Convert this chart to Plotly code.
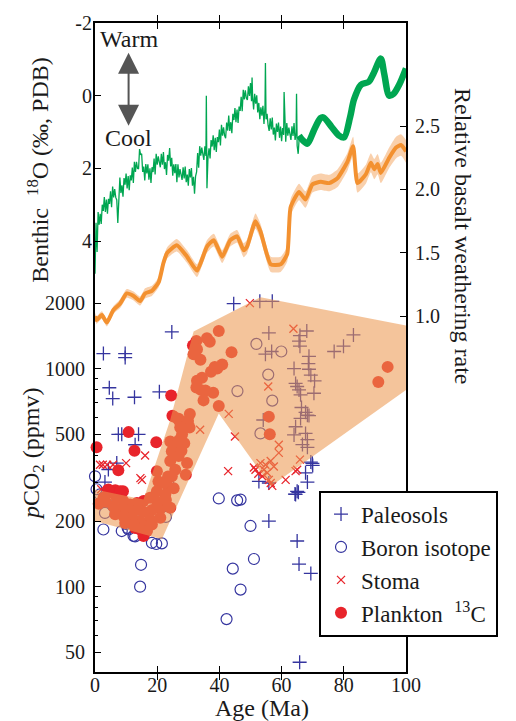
import plotly.graph_objects as go

# ---------------- data ----------------
# Benthic d18O (noisy record, 0-66 Ma)
green_age = [0, 0.33, 0.67, 1, 1.33, 1.67, 2, 2.33, 2.67, 3, 3.33, 3.67, 4, 4.33, 4.67, 5, 5.33, 5.67,
             6, 6.33, 6.67, 7, 7.33, 7.67, 8, 8.33, 8.67, 9, 9.33, 9.67, 10, 10.33, 10.67, 11, 11.33, 11.67,
             12, 12.33, 12.67, 13, 13.33, 13.67, 14, 14.33, 14.67, 15, 15.33, 15.67, 16, 16.33, 16.67,
             17, 17.33, 17.67, 18, 18.33, 18.67, 19, 19.33, 19.67, 20, 20.33, 20.67, 21, 21.33, 21.67,
             22, 22.33, 22.67, 23, 23.33, 23.67, 24, 24.33, 24.67, 25, 25.33, 25.67, 26, 26.33, 26.67,
             27, 27.33, 27.67, 28, 28.33, 28.67, 29, 29.33, 29.67, 30, 30.33, 30.67, 31, 31.33, 31.67,
             32, 32.33, 32.67, 33, 33.33, 33.67, 34, 34.33, 34.67, 35, 35.33, 35.67, 35.8, 36, 36.33, 36.67,
             37, 37.33, 37.67, 38, 38.33, 38.67, 39, 39.33, 39.67, 40, 40.33, 40.67, 41, 41.33, 41.67,
             42, 42.33, 42.67, 43, 43.33, 43.67, 44, 44.33, 44.67, 45, 45.33, 45.67, 46, 46.33, 46.67,
             47, 47.33, 47.67, 48, 48.33, 48.67, 49, 49.33, 49.67, 50, 50.33, 50.5, 50.67, 51, 51.33, 51.67,
             52, 52.33, 52.67, 53, 53.33, 53.67, 54, 54.33, 54.67, 54.8, 55, 55.33, 55.67, 56, 56.33, 56.67,
             57, 57.33, 57.67, 58, 58.33, 58.67, 59, 59.33, 59.67, 60, 60.33, 60.67, 60.8, 61, 61.33, 61.67,
             62, 62.33, 62.67, 63, 63.33, 63.67, 64, 64.33, 64.67, 64.8, 65, 65.33, 65.67, 66]
green_d18o = [4.9, 3.5, 4.3, 3.2, 3.55, 3.25, 3.53, 3.0, 3.17, 2.79, 3.2, 2.86, 3.25, 2.84, 2.98, 2.63, 3.07, 2.5,
              2.8, 2.57, 2.8, 2.87, 3.5, 2.66, 2.25, 2.68, 2.47, 2.78, 2.27, 2.45, 2.14, 2.55, 2.21, 2.6, 2.19, 2.33,
              1.98, 2.4, 1.82, 2.1, 1.82, 2.0, 2.02, 1.47, 1.63, 1.6, 2.1, 1.95, 2.33, 1.88, 2.14,
              1.89, 2.31, 2.0, 2.4, 1.97, 2.1, 1.73, 2.17, 1.6, 1.9, 1.67, 1.9, 1.97, 1.6, 1.9,
              1.55, 2.02, 1.83, 2.18, 1.63, 1.79, 1.44, 1.95, 1.71, 2.2, 1.89, 2.13, 1.88, 2.38, 1.89,
              2.25, 2.02, 2.25, 2.32, 1.97, 2.28, 1.95, 2.38, 2.17, 2.48, 2.02, 2.25, 1.99, 2.48, 2.23,
              2.7, 2.22, 2.1, 1.58, 1.98, 1.39, 1.65, 1.43, 1.69, 1.77, 1.39, 1.66, 0.0, 2.55, 1.7, 1.45,
              1.73, 1.22, 1.4, 1.09, 1.5, 1.16, 1.55, 1.14, 1.28, 0.93, 1.37, 0.8, 1.1, 0.87, 1.1,
              1.17, 0.74, 0.96, 0.55, 0.97, 0.73, 1.03, 0.5, 0.67, 0.34, 0.73, 0.38, 0.75, 0.3, 0.42,
              0.03, 0.43, -0.16, 0.1, -0.15, 0.07, 0.12, -0.26, 0.01, -0.35, 0.15, -0.5, 0.0, 0.38, -0.05, 0.22,
              -0.01, 0.46, 0.2, 0.65, 0.32, 0.55, 0.28, 0.78, 0.29, -0.9, 0.65, 0.5, 0.82, 0.97, 0.62, 0.93,
              0.6, 1.07, 0.88, 1.23, 0.77, 1.0, 0.74, 1.16, 0.85, 1.25, 0.89, 1.08, -0.1, 0.78, 1.27, 0.75,
              1.1, 0.88, 1.14, 1.22, 0.84, 1.11, 0.75, 1.22, 1.03, -0.05, 1.38, 1.6, 1.15, 1.12]

# Benthic d18O (smoothed, 66-100 Ma)
smooth_age = [65.6, 66.5, 68.3, 70.4, 72.5, 73.5, 76.0, 78.5, 80.1, 82.0, 83.3, 85.5, 88.0, 89.5, 91.9, 93.0, 94.6, 96.0, 97.8, 100.0]
smooth_d18o = [1.1, 1.2, 1.32, 0.95, 0.62, 0.6, 0.85, 1.1, 1.15, 0.6, 0.1, -0.3, -0.38, -0.6, -1.02, -0.6, 0.0, -0.05, -0.3, -0.75]

# Relative basalt weathering rate
rate_age = [0, 0.5, 2.2, 3.8, 5.9, 8.1, 10.2, 12.4, 14.5, 16.1, 18.3, 20.5, 22.0, 23.2, 26.3, 29.6, 32.8, 36.0,
            38.2, 40.9, 43.5, 45.7, 47.8, 48.9, 51.6, 53.2, 56.5, 59.7, 61.8, 62.9, 65.6, 67.7, 69.9, 72.6, 75.3,
            78.0, 81.2, 83.0, 84.4, 87.1, 88.7, 89.8, 90.9, 91.9, 94.6, 96.8, 98.4, 100.0]
rate_val = [1.0, 0.97, 1.01, 0.95, 1.05, 1.1, 1.18, 1.16, 1.12, 1.18, 1.2, 1.27, 1.42, 1.5, 1.56, 1.47, 1.36, 1.55,
            1.6, 1.47, 1.6, 1.63, 1.52, 1.55, 1.75, 1.67, 1.41, 1.41, 1.49, 1.86, 1.98, 1.92, 2.04, 2.06, 2.05,
            2.09, 2.22, 2.34, 2.05, 2.12, 2.21, 2.16, 2.2, 2.13, 2.25, 2.33, 2.35, 2.3]
rate_err = [0.03, 0.03, 0.03, 0.03, 0.03, 0.035, 0.035, 0.035, 0.035, 0.04, 0.04, 0.04, 0.045, 0.045, 0.05, 0.05, 0.05, 0.05,
            0.05, 0.05, 0.05, 0.05, 0.055, 0.055, 0.06, 0.06, 0.06, 0.06, 0.06, 0.065, 0.065, 0.065, 0.065, 0.065, 0.065,
            0.07, 0.07, 0.075, 0.075, 0.075, 0.075, 0.08, 0.08, 0.08, 0.08, 0.085, 0.085, 0.09]

# pCO2 envelope (age, ppmv)
env_age = [0, 0, 15.6, 24.2, 31.7, 53.2, 100, 100, 56.5, 39.8, 21.5, 0]
env_co2 = [200, 279, 251, 584, 1484, 2128, 1580, 798, 289, 624, 165, 200]

# Proxies
paleo_age = [44.6, 24.7, 2.7, 9.7, 9.7, 4.6, 5.7, 12.7, 20.7, 7.5, 8.6, 14.0, 12.9, 7.0, 4.3, 3.2,
             53.0, 57.0, 68.1, 55.9, 65.9, 65.6, 65.9, 83.1, 79.9, 76.9, 54.8, 56.8, 68.8, 68.6, 64.0, 68.8,
             69.4, 70.6, 64.5, 65.0, 65.6, 66.1, 70.4, 66.4, 67.7, 68.8, 54.1, 64.5, 64.0, 67.7, 68.3, 66.7,
             68.3, 68.3, 66.1, 69.4, 69.9, 52.7, 55.9, 67.7, 68.3, 65.0, 64.5, 55.9, 65.0, 65.6, 69.4, 65.8,
             64.3, 65.4, 70.0]
paleo_co2 = [1990, 1475, 1174, 1174, 1125, 818, 730, 740, 784, 500, 500, 500, 448, 369, 345, 302,
             2040, 2040, 1490, 1460, 1420, 1340, 1270, 1430, 1270, 1200, 1166, 1200, 1140, 1056, 1002, 995,
             934, 880, 856, 829, 800, 759, 772, 664, 631, 610, 582, 542, 497, 505, 473, 449,
             436, 612, 592, 373, 368, 304, 299, 333, 302, 274, 265, 200, 162, 127, 115, 45,
             266, 271, 360]

boron_age = [51.9, 59.9, 55.7, 45.8, 57.0, 53.2, 46.8, 50.0, 51.1, 39.8, 45.7, 44.3, 46.8, 42.3,
             2.7, 8.6, 10.8, 12.9, 18.3, 19.7, 21.5, 14.8, 14.5, 0.5, 1.6, 3.8, 5.9, 3.2, 10.0, 11.8,
             15.8, 16.5, 22.8, 23.6, 0.0, 12.4, 10.5]
boron_co2 = [1300, 1200, 940, 790, 714, 505, 251, 190, 134, 254, 249, 121, 97, 71,
             183, 180, 183, 170, 159, 157, 158, 126, 100, 280, 265, 251, 234, 218, 194, 207,
             216, 180, 209, 296, 321, 171, 186]

stoma_age = [49.8, 63.8, 55.7, 59.1, 59.1, 65.9, 53.2, 54.8, 56.5, 57.5, 54.3, 55.4, 51.6, 51.1, 53.8,
             55.9, 56.5, 61.3, 64.5, 65.0, 1.6, 2.5, 3.9, 5.8, 10.0, 16.1, 14.6, 15.1, 33.8, 43.0,
             45.0, 42.8, 2.0, 5.0, 52.5, 57.0]
stoma_co2 = [2000, 1526, 829, 448, 411, 383, 369, 363, 377, 356, 344, 333, 344, 352, 321,
             309, 299, 309, 339, 344, 363, 363, 363, 363, 369, 400, 315, 309, 525, 621,
             489, 339, 280, 275, 330, 290]

plank_age = [0.5, 10.8, 12.7, 19.7, 7.5, 24.5, 24.9, 6.5, 9.0,
             39.8, 32.6, 36.9, 32.8, 31.7, 33.9, 43.9, 40.9, 39.3, 37.3, 34.4, 32.8, 32.6, 35.5, 38.0, 34.9,
             39.8, 25.3, 26.9, 29.9, 94.1, 91.1, 55.9, 56.2,
             26.9, 29.8, 30.4, 27.4, 24.2, 26.3, 28.7, 24.7, 26.9, 29.6, 24.2, 29.2, 25.8, 24.7, 19.9, 20.4,
             23.1, 25.3, 19.9, 22.6, 17.7, 15.6, 13.5, 11.3, 9.1, 7.0, 5.4, 8.1, 24.2, 21.0, 18.3, 15.6,
             13.5, 10.8, 8.6, 21.0, 17.7, 14.5, 11.8, 9.1, 15.6, 12.4, 9.7, 18.3, 16.7, 14.5, 12.9, 15.6,
             4.3, 2.7, 5.9, 22.0, 23.5, 27.0, 28.0, 31.5, 36.0, 38.5, 34.0, 30.5, 27.8, 22.8, 20.0, 3.5,
             6.5, 1.2]
plank_co2 = [436, 512, 420, 460, 342, 753, 609, 277, 274,
             1490, 1340, 1330, 1230, 1166, 1100, 1190, 1047, 1002, 968, 910, 880, 820, 795, 776, 716,
             674, 603, 589, 577, 1020, 870, 603, 500,
             582, 563, 537, 537, 464, 447, 455, 418, 398, 369, 377, 326, 344, 321, 339, 304,
             294, 283, 274, 265, 256, 247, 242, 238, 247, 256, 270, 274, 230, 228, 225, 221,
             225, 225, 225, 207, 204, 200, 207, 211, 190, 193, 196, 193, 180, 183, 186, 171,
             279, 256, 234, 300, 320, 470, 500, 1280, 1380, 1020, 800, 620, 420, 250, 245, 245,
             215, 240]

d18o_ticks = [-2, 0, 2, 4]
d18o_ticktext = ["-2", "0", "2", "4"]
co2_ticks = [50, 100, 200, 500, 1000, 2000]
rate_ticks = [1.0, 1.5, 2.0, 2.5]
rate_ticktext = ["1.0", "1.5", "2.0", "2.5"]
age_ticks = [0, 20, 40, 60, 80, 100]

# ---------------- styles ----------------
SERIF = "Liberation Serif, Times New Roman, DejaVu Serif, serif"
GREEN = "#00a651"
ORANGE = "#f39130"
BLUE = "#35359f"
RED = "#e8242b"

fig = go.Figure()

fig.add_trace(go.Scatter(x=green_age, y=green_d18o, yaxis="y2", mode="lines",
                         line=dict(color=GREEN, width=1.3), showlegend=False, hoverinfo="skip"))
fig.add_trace(go.Scatter(x=smooth_age, y=smooth_d18o, yaxis="y2", mode="lines",
                         line=dict(color=GREEN, width=6.5, shape="spline", smoothing=0.8),
                         showlegend=False, hoverinfo="skip"))

rate_hi = [v + e for v, e in zip(rate_val, rate_err)]
rate_lo = [v - e for v, e in zip(rate_val, rate_err)]
fig.add_trace(go.Scatter(x=rate_age, y=rate_hi, yaxis="y3", mode="lines",
                         line=dict(width=0, shape="spline", smoothing=0.5), showlegend=False, hoverinfo="skip"))
fig.add_trace(go.Scatter(x=rate_age, y=rate_lo, yaxis="y3", mode="lines", fill="tonexty",
                         fillcolor="rgba(242,150,70,0.45)",
                         line=dict(width=0, shape="spline", smoothing=0.5), showlegend=False, hoverinfo="skip"))
fig.add_trace(go.Scatter(x=rate_age, y=rate_val, yaxis="y3", mode="lines",
                         line=dict(color=ORANGE, width=4, shape="spline", smoothing=0.5),
                         showlegend=False, hoverinfo="skip"))

fig.add_trace(go.Scatter(x=paleo_age, y=paleo_co2, mode="markers", name="Paleosols", cliponaxis=False,
                         marker=dict(symbol="cross-thin-open", size=10, color=BLUE,
                                     line=dict(width=1.3, color=BLUE))))
fig.add_trace(go.Scatter(x=boron_age, y=boron_co2, mode="markers", name="Boron isotope", cliponaxis=False,
                         marker=dict(symbol="circle-open", size=11, color=BLUE,
                                     line=dict(width=1.2, color=BLUE))))
fig.add_trace(go.Scatter(x=stoma_age, y=stoma_co2, mode="markers", name="Stoma", cliponaxis=False,
                         marker=dict(symbol="x-thin-open", size=8, color=RED,
                                     line=dict(width=1.3, color=RED))))
fig.add_trace(go.Scatter(x=plank_age, y=plank_co2, mode="markers", name="Plankton  <sup>13</sup>C",
                         cliponaxis=False, marker=dict(symbol="circle", size=12, color=RED)))

fig.add_trace(go.Scatter(x=env_age, y=env_co2, mode="lines", fill="toself",
                         fillcolor="rgba(236,151,79,0.57)", line=dict(width=0),
                         showlegend=False, hoverinfo="skip"))

tickfont = dict(family=SERIF, size=20, color="#1a1a1a")
common = dict(showgrid=False, zeroline=False, linecolor="black", linewidth=2,
              ticks="inside", ticklen=6, tickcolor="black", tickfont=tickfont)

fig.update_layout(
    width=516, height=721,
    margin=dict(l=95, r=110, t=17, b=49),
    paper_bgcolor="white", plot_bgcolor="white",
    font=dict(family=SERIF, color="#1a1a1a"),
    xaxis=dict(range=[0, 100], tickvals=age_ticks, showline=True, mirror="allticks",
               ticklabelstandoff=-6, **common),
    yaxis=dict(type="log", range=[1.6085, 4.5866], tickvals=co2_ticks,
               showline=True, side="left", ticklabelstandoff=4,
               minor=dict(tickvals=[60, 70, 80, 90, 300, 400, 600, 700, 800, 900],
                          ticks="inside", ticklen=3, tickcolor="black"),
               **common),
    yaxis2=dict(overlaying="y", side="left", anchor="x", range=[15.86, -2],
                tickvals=d18o_ticks, ticktext=d18o_ticktext, showline=False, ticklabelstandoff=2, **common),
    yaxis3=dict(overlaying="y", side="right", anchor="x", range=[-1.805, 3.3125],
                tickvals=rate_ticks, ticktext=rate_ticktext,
                showline=True, ticklabelstandoff=3, **common),
    legend=dict(x=0.7203, y=0.2795, xanchor="left", yanchor="top", traceorder="normal",
                bordercolor="black", borderwidth=2, bgcolor="white",
                font=dict(family=SERIF, size=23, color="#1a1a1a"), tracegroupgap=0),
)

ann_font = dict(family=SERIF, size=24, color="#1a1a1a")
fig.add_annotation(text="Benthic  <sup>18</sup>O (‰, PDB)", textangle=-90, xref="paper", yref="paper",
                   x=-0.1833, y=0.774, xanchor="center", yanchor="middle", showarrow=False, font=ann_font)
fig.add_annotation(text="<i>p</i>CO<sub>2</sub> (ppmv)", textangle=-90, xref="paper", yref="paper",
                   x=-0.1994, y=0.3359, xanchor="center", yanchor="middle", showarrow=False, font=ann_font)
fig.add_annotation(text="Relative basalt weathering rate", textangle=90, xref="paper", yref="paper",
                   x=1.1833, y=0.6718, xanchor="center", yanchor="middle", showarrow=False, font=ann_font)
fig.add_annotation(text="Age (Ma)", xref="paper", yref="paper", x=0.537, y=-0.056,
                   xanchor="center", yanchor="middle", showarrow=False, font=ann_font)

fig.add_annotation(text="Warm", xref="x", yref="y2", x=10.8, y=-1.56, showarrow=False, font=ann_font)
fig.add_annotation(text="Cool", xref="x", yref="y2", x=10.8, y=1.16, showarrow=False, font=ann_font)
fig.add_annotation(text="", xref="x", yref="y2", x=10.8, y=-1.18, axref="x", ayref="y2", ax=10.8, ay=0.87,
                   showarrow=True, arrowside="end+start", arrowhead=2, startarrowhead=2,
                   arrowsize=2.1, startarrowsize=2.1, arrowwidth=2, arrowcolor="#555555",
                   standoff=0, startstandoff=0)

fig.write_html("out.html")
